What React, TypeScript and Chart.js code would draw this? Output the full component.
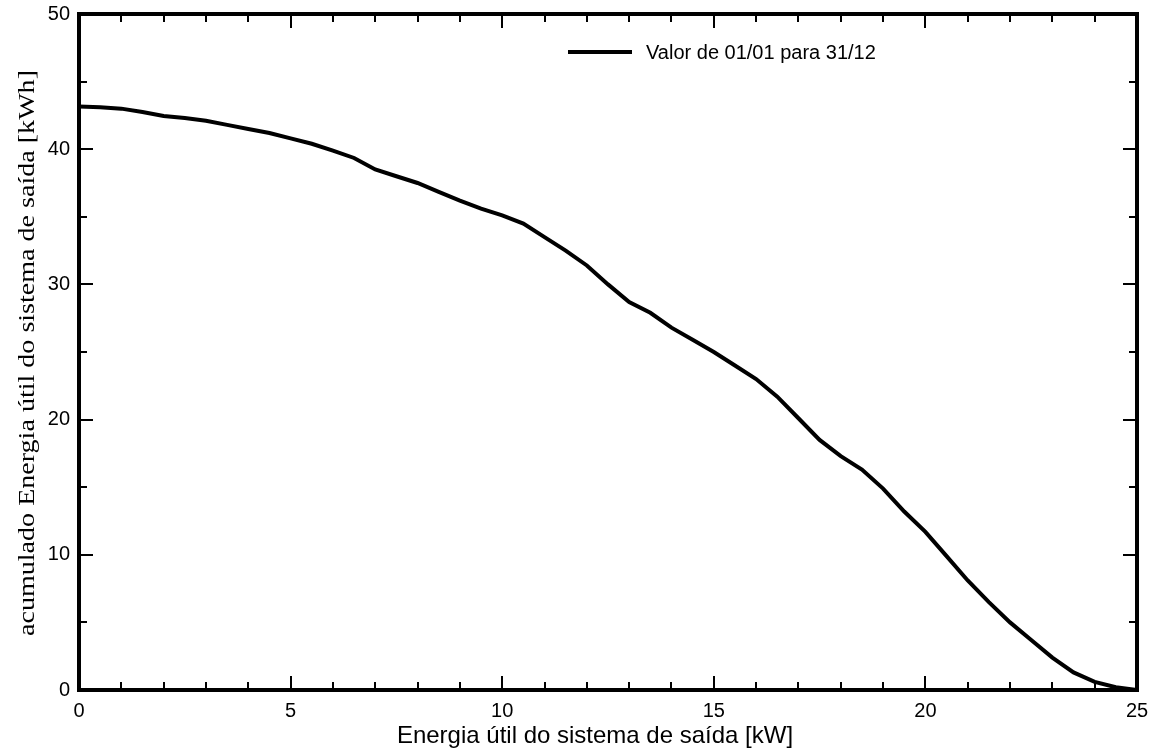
import React, { useEffect, useRef } from "react";
import { Chart, registerables } from "chart.js";

Chart.register(...registerables);

const power: number[] = [
  0, 0.5, 1, 1.5, 2, 2.5, 3, 3.5, 4, 4.5, 5, 5.5, 6, 6.5, 7, 7.5, 8, 8.5, 9, 9.5,
  10, 10.5, 11, 11.5, 12, 12.5, 13, 13.5, 14, 14.5, 15, 15.5, 16, 16.5, 17, 17.5,
  18, 18.5, 19, 19.5, 20, 20.5, 21, 21.5, 22, 22.5, 23, 23.5, 24, 24.5, 25,
];
const energy: number[] = [
  43.15, 43.1, 43.0, 42.75, 42.45, 42.3, 42.1, 41.8, 41.5, 41.2, 40.8, 40.4, 39.9,
  39.35, 38.5, 38.0, 37.5, 36.85, 36.2, 35.6, 35.1, 34.5, 33.5, 32.5, 31.4, 30.0,
  28.7, 27.9, 26.8, 25.9, 25.0, 24.0, 23.0, 21.7, 20.1, 18.5, 17.3, 16.3, 14.9,
  13.2, 11.7, 9.9, 8.1, 6.5, 5.0, 3.7, 2.4, 1.3, 0.6, 0.2, 0,
];
const seriesLabel = "Valor de 01/01 para 31/12";
const xTitle = "Energia útil do sistema de saída [kW]";
const yTitle = "acumulado Energia útil do sistema de saída [kWh]";
const xMajorTicks: number[] = [0, 5, 10, 15, 20, 25];
const xMinorStep = 1;
const yMajorTicks: number[] = [0, 10, 20, 30, 40, 50];
const yMinorStep = 5;

const decorPlugin = {
  id: "decor",
  afterDraw(chart: any) {
    const ctx = chart.ctx;
    const { left, right, top, bottom } = chart.chartArea;
    const xs = chart.scales.x;
    const ys = chart.scales.y;
    ctx.save();
    ctx.strokeStyle = "#000";
    ctx.lineWidth = 2;
    ctx.beginPath();
    for (let v = 0; v <= 25 + 1e-9; v += xMinorStep) {
      const px = Math.round(xs.getPixelForValue(v));
      const major = xMajorTicks.includes(v);
      const len = major ? 14 : 8;
      ctx.moveTo(px, bottom);
      ctx.lineTo(px, bottom - len);
      ctx.moveTo(px, top);
      ctx.lineTo(px, top + len);
    }
    for (let v = 0; v <= 50 + 1e-9; v += yMinorStep) {
      const py = Math.round(ys.getPixelForValue(v));
      const major = yMajorTicks.includes(v);
      const len = major ? 14 : 8;
      ctx.moveTo(left, py);
      ctx.lineTo(left + len, py);
      ctx.moveTo(right, py);
      ctx.lineTo(right - len, py);
    }
    ctx.stroke();

    ctx.lineWidth = 4;
    ctx.strokeRect(left, top, right - left, bottom - top);

    // legend
    ctx.lineWidth = 4;
    ctx.beginPath();
    ctx.moveTo(568, 52);
    ctx.lineTo(632, 52);
    ctx.stroke();
    ctx.fillStyle = "#000";
    ctx.font = "20px 'Liberation Sans', Arial, sans-serif";
    ctx.textAlign = "left";
    ctx.textBaseline = "middle";
    ctx.fillText(seriesLabel, 646, 53);

    // x title
    ctx.font = "24px 'Liberation Sans', Arial, sans-serif";
    ctx.textAlign = "center";
    ctx.textBaseline = "middle";
    ctx.fillText(xTitle, 595, 736);

    // y title
    ctx.font = "24px 'Liberation Serif', 'Times New Roman', serif";
    const w = ctx.measureText(yTitle).width;
    const targetLen = 566;
    ctx.translate(28, 353);
    ctx.rotate(-Math.PI / 2);
    ctx.scale(targetLen / w, 1);
    ctx.fillText(yTitle, 0, 0);
    ctx.restore();
  },
};

export default function App() {
  const canvasRef = useRef<HTMLCanvasElement | null>(null);

  useEffect(() => {
    if (!canvasRef.current) return;
    const chart = new Chart(canvasRef.current, {
      type: "line",
      data: {
        datasets: [
          {
            label: seriesLabel,
            data: power.map((p, i) => ({ x: p, y: energy[i] })),
            borderColor: "#000",
            borderWidth: 4,
            pointRadius: 0,
            tension: 0,
            fill: false,
          },
        ],
      },
      options: {
        animation: false,
        responsive: false,
        maintainAspectRatio: false,
        layout: { padding: { left: 0, top: 14, right: 21, bottom: 0 } },
        plugins: {
          legend: { display: false },
          tooltip: { enabled: false },
        },
        scales: {
          x: {
            type: "linear",
            min: 0,
            max: 25,
            ticks: {
              stepSize: 5,
              color: "#000",
              padding: 9,
              font: { family: "'Liberation Sans', Arial, sans-serif", size: 20 },
            },
            grid: { display: false, drawTicks: false },
            border: { display: false },
            afterFit(scale: any) {
              scale.height = 61;
              scale.paddingLeft = 0;
              scale.paddingRight = 0;
            },
          },
          y: {
            type: "linear",
            min: 0,
            max: 50,
            ticks: {
              stepSize: 10,
              color: "#000",
              padding: 9,
              font: { family: "'Liberation Sans', Arial, sans-serif", size: 20 },
            },
            grid: { display: false, drawTicks: false },
            border: { display: false },
            afterFit(scale: any) {
              scale.width = 79;
              scale.paddingTop = 0;
              scale.paddingBottom = 0;
            },
          },
        },
      },
      plugins: [decorPlugin],
    });
    return () => chart.destroy();
  }, []);

  return (
    <div style={{ position: "fixed", left: 0, top: 0, width: 1158, height: 751, background: "#fff" }}>
      <canvas ref={canvasRef} width={1158} height={751} style={{ display: "block" }} />
    </div>
  );
}
